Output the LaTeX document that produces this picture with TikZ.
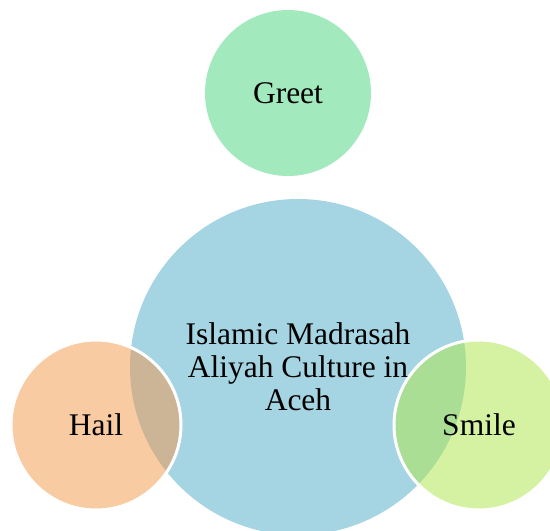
\documentclass[tikz,border=0pt]{standalone}
\usepackage{fontspec}
\setmainfont{Liberation Serif}
\definecolor{cblue}{HTML}{A5D5E3}
\definecolor{cgreet}{HTML}{A2EABE}
\definecolor{chail}{HTML}{F8CBA2}
\definecolor{chailov}{HTML}{CCB597}
\definecolor{csmile}{HTML}{D5F2A2}
\definecolor{csmileov}{HTML}{AADE95}
\begin{document}
\begin{tikzpicture}[x=1pt,y=-1pt,
  bubble/.style={circle,inner sep=0pt,align=center,font=\fontsize{31.5}{33}\selectfont},
  rim/.style={draw=white,line width=3pt}]
\useasboundingbox (0,0) rectangle (550,531);
\node[bubble,fill=cblue,minimum size=336pt] (core) at (298,367) {};
\node[bubble,fill=cgreet,minimum size=166pt] (greet) at (288,93) {Greet};
% Hail
\fill[chail] (96,425) circle (84pt);
\begin{scope}
  \clip (core.center) circle (168pt);
  \fill[chailov] (96,425) circle (84pt);
\end{scope}
\draw[rim] (96,425) circle (85pt);
\node[bubble,minimum size=168pt] (hail) at (96,425) {Hail};
% Smile
\fill[csmile] (479,425) circle (84pt);
\begin{scope}
  \clip (core.center) circle (168pt);
  \fill[csmileov] (479,425) circle (84pt);
\end{scope}
\draw[rim] (479,425) circle (85pt);
\node[bubble,minimum size=168pt] (smile) at (479,425) {Smile};
\node[bubble] (coretext) at (core) {Islamic Madrasah\\Aliyah Culture in\\Aceh};
\end{tikzpicture}
\end{document}
